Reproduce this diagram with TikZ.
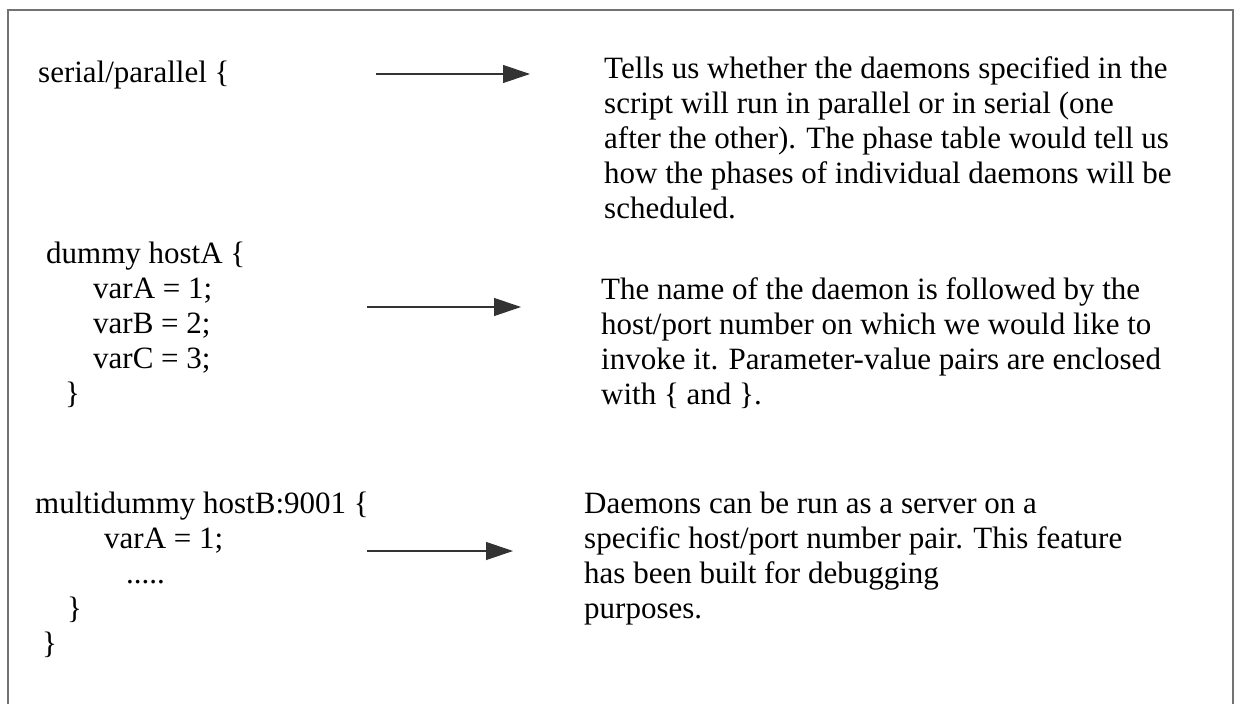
\documentclass[tikz,border=0pt]{standalone}
\usepackage{fontspec}
\setmainfont{Liberation Serif}
\usetikzlibrary{arrows.meta}
\begin{document}
\begin{tikzpicture}[x=1pt,y=-1pt,
  code/.style={anchor=base west, inner sep=0pt, font=\fontsize{31}{35}\selectfont},
  note/.style={anchor=north west, inner sep=0pt, align=left, font=\fontsize{31}{35}\selectfont},
  pointer/.style={draw=black!80, line width=1.2pt, -{Triangle[length=27pt,width=18pt]}},
  frame/.style={draw=black!55, line width=1.5pt}]
\useasboundingbox (0,0) rectangle (1238,704);
% open frame: left, top and right sides
\draw[frame] (8,704) -- (8,10) -- (1233,10) -- (1233,704);

% script fragment
\node[code] (ser)  at (38,82)  {serial/parallel \{};
\node[code] (dh)   at (46,263) {dummy hostA \{};
\node[code] (dva)  at (93,298) {varA = 1;};
\node[code] (dvb)  at (93,333) {varB = 2;};
\node[code] (dvc)  at (93,368) {varC = 3;};
\node[code] (dend) at (65,403) {\}};
\node[code] (mh)   at (35,513) {multidummy hostB:9001 \{};
\node[code] (mva)  at (104,548) {varA = 1;};
\node[code] (mdot) at (126,583) {.....};
\node[code] (mend) at (67,618) {\}};
\node[code] (send) at (42,653) {\}};

% explanations
\node[note] (n1) at (604,56.8) {Tells us whether the daemons specified in the\\
  script will run in parallel or in serial (one\\
  after the other). The phase table would tell us\\
  how the phases of individual daemons will be\\
  scheduled.};
\node[note] (n2) at (601,277) {The name of the daemon is followed by the\\
  host/port number on which we would like to\\
  invoke it. Parameter-value pairs are enclosed\\
  with \{ and \}.};
\node[note] (n3) at (584,492) {Daemons can be run as a server on a\\
  specific host/port number pair. This feature\\
  has been built for debugging\\
  purposes.};

% arrows linking code to explanation
\coordinate (a1s) at (376,74);  \coordinate (a1e) at (530,74);
\coordinate (a2s) at (367,307); \coordinate (a2e) at (521,307);
\coordinate (a3s) at (367,551); \coordinate (a3e) at (513,551);
\draw[pointer] (a1s) -- (a1e);
\draw[pointer] (a2s) -- (a2e);
\draw[pointer] (a3s) -- (a3e);
\end{tikzpicture}
\end{document}
